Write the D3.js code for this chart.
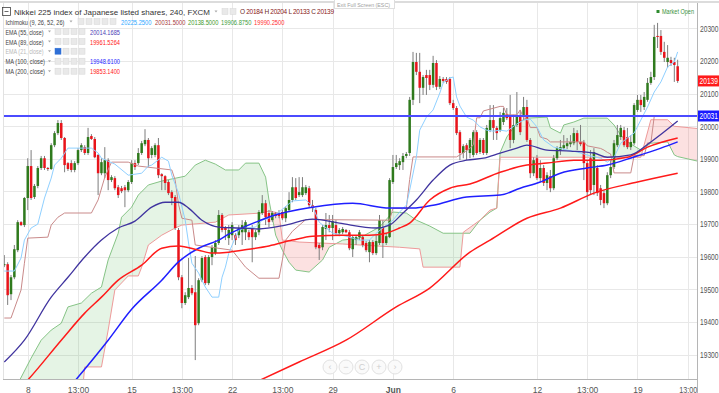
<!DOCTYPE html>
<html><head><meta charset="utf-8">
<script src="https://cdn.jsdelivr.net/npm/d3@7"></script>
<style>html,body{margin:0;padding:0;background:#fff;overflow:hidden}svg{display:block;font-family:Arial,"Liberation Sans",sans-serif}</style>
</head><body><svg id="c" width="719" height="393"></svg>
<script>
// ---------- DATA ----------
const candleOpen = [19574,19577,19485,19537,19620,19706,19697,19780,19878,19783,19817,19872,19902,19872,19869,19942,19979,20010,19964,19887,
19887,19866,19887,19927,19936,19918,19970,19961,19912,19856,19856,19896,19835,19841,19813,19810,19813,19804,19829,19887,
19887,19918,19945,19958,19912,19912,19942,19853,19847,19829,19798,19783,19682,19537,19458,19476,19504,19491,19396,19528,
19599,19519,19599,19611,19642,19728,19688,19657,19666,19666,19666,19675,19675,19675,19688,19660,19675,19734,19764,19734,
19712,19734,19731,19737,19718,19743,19774,19813,19789,19789,19795,19810,19758,19743,19636,19629,19685,19697,19688,19697,
19672,19675,19682,19675,19623,19651,19660,19660,19642,19614,19645,19611,19642,19688,19642,19660,19829,19875,19881,19890,
19909,19918,20081,20197,20167,20118,20157,20157,20127,20194,20121,20145,20145,20145,20071,20056,19982,19918,19942,19918,
19912,19982,19921,19958,19918,19988,20019,19995,19988,20013,20038,20029,19958,20004,20029,20029,20059,19958,19856,19902,
19841,19872,19826,19847,19810,19902,19927,19933,19939,19945,19948,19979,19952,19952,19887,19902,19820,19872,19810,19795,
19764,19850,19875,19942,19967,19988,19967,19936,19948,20050,20081,20059,20081,20133,20151,20277,20277,20228,20197,20203,
20197,20184];
const candleHigh = [19605,19583,19544,19636,19712,19709,19783,19902,19927,19823,19878,19909,19909,19875,19948,19985,20019,20019,19967,19890,
19896,19893,19933,19948,19942,19995,19976,19967,19915,19902,19936,19902,19850,19847,19820,19817,19820,19835,19896,19896,
19933,19955,19991,19964,19939,19948,19964,19856,19850,19835,19804,19789,19688,19544,19491,19596,19513,19602,19534,19602,
19605,19605,19636,19651,19743,19734,19694,19697,19706,19672,19697,19712,19712,19682,19697,19682,19743,19789,19774,19743,
19740,19737,19743,19743,19755,19798,19844,19841,19844,19844,19820,19817,19774,19749,19642,19697,19734,19728,19728,19712,
19688,19691,19685,19682,19666,19666,19682,19666,19648,19651,19651,19666,19728,19712,19672,19841,19912,19912,19902,19918,
19921,20090,20228,20225,20225,20157,20173,20173,20216,20203,20154,20151,20151,20151,20081,20062,19988,19945,19948,19964,
19988,19988,19964,19964,20004,20065,20065,20001,20044,20056,20056,20096,20035,20105,20050,20090,20081,19964,19905,19912,
19896,19881,19859,19866,19912,19939,19958,19973,19964,19973,19995,19988,20004,19958,19896,19927,19933,19881,19820,19804,
19859,19896,19958,20004,20004,19998,19995,19973,20071,20096,20096,20105,20148,20167,20311,20317,20295,20259,20249,20213,
20210,20204];
const candleLow = [19568,19452,19467,19531,19614,19694,19691,19743,19774,19777,19810,19866,19866,19863,19866,19936,19973,19958,19859,19863,
19859,19859,19881,19921,19912,19912,19958,19902,19789,19850,19841,19804,19829,19804,19780,19795,19752,19798,19823,19866,
19881,19912,19939,19875,19902,19905,19841,19804,19804,19789,19758,19682,19528,19442,19452,19470,19482,19283,19390,19522,
19513,19513,19574,19605,19636,19675,19651,19636,19651,19636,19657,19636,19651,19651,19583,19651,19666,19728,19697,19691,
19706,19718,19718,19712,19706,19737,19767,19774,19783,19783,19789,19752,19737,19623,19590,19620,19651,19675,19651,19666,
19663,19669,19672,19620,19599,19636,19651,19629,19614,19583,19605,19605,19636,19596,19636,19657,19823,19869,19866,19866,
19902,19909,20065,20157,20071,20096,20096,20111,20118,20111,20114,20133,20130,20065,20050,19973,19896,19902,19896,19902,
19905,19912,19915,19912,19912,19982,19958,19958,19982,20004,20019,19933,19948,19998,19973,20019,19952,19841,19847,19835,
19829,19817,19804,19798,19804,19896,19912,19927,19930,19936,19942,19927,19939,19835,19774,19789,19789,19786,19758,19749,
19758,19841,19869,19936,19958,19936,19930,19927,19942,20044,20044,20050,20075,20127,20142,20240,20219,20197,20179,20185,
20136,20133];
const candleClose = [19577,19482,19537,19623,19706,19697,19780,19878,19780,19817,19872,19902,19872,19869,19942,19979,20010,19964,19881,19869,
19866,19887,19927,19942,19918,19967,19961,19905,19856,19890,19896,19835,19844,19810,19789,19801,19804,19829,19887,19875,
19918,19948,19958,19902,19933,19942,19850,19847,19826,19795,19780,19688,19537,19458,19482,19504,19488,19390,19528,19596,
19519,19599,19629,19642,19728,19682,19682,19682,19697,19651,19688,19697,19706,19660,19660,19675,19737,19764,19721,19706,
19734,19725,19725,19718,19749,19774,19813,19780,19798,19813,19813,19758,19749,19629,19626,19691,19697,19688,19709,19672,
19682,19685,19675,19626,19660,19660,19675,19636,19620,19645,19611,19648,19712,19642,19663,19835,19875,19887,19893,19909,
19915,20081,20197,20167,20118,20151,20148,20127,20194,20121,20145,20139,20136,20071,20056,19979,19918,19939,19927,19958,
19982,19918,19958,19918,19995,20019,19995,19979,20025,20041,20025,19958,20004,20029,19982,20059,19958,19856,19896,19841,
19872,19826,19850,19810,19902,19933,19936,19942,19948,19952,19979,19952,19945,19887,19798,19804,19921,19795,19774,19764,
19850,19875,19948,19973,19995,19942,19936,19952,20065,20081,20065,20090,20133,20151,20274,20274,20228,20210,20210,20194,
20188,20139];

// indicator readings: [bar index, price]
const ema55 = [[0,19277],[6,19344],[14,19476],[19,19537],[24,19599],[29,19651],[34,19688],[39,19709],[44,19752],[48,19767],[52,19767],[55,19749],[59,19712],[64,19691],[70,19688],[76,19685],[84,19697],[92,19715],[100,19703],[111,19688],[115,19697],[119,19734],[123,19774],[128,19835],[133,19881],[138,19896],[143,19902],[148,19918],[153,19933],[156,19942],[162,19927],[169,19924],[176,19918],[180,19905],[187,19912],[193,19952],[201,20016]];
const ema89 = [[4,19190],[7,19222],[17,19344],[24,19427],[29,19476],[34,19528],[41,19574],[47,19626],[52,19633],[58,19620],[62,19611],[67,19614],[73,19623],[79,19633],[86,19651],[92,19663],[101,19666],[109,19666],[114,19672],[118,19688],[121,19703],[127,19774],[133,19810],[139,19823],[148,19859],[156,19881],[162,19887],[170,19896],[178,19896],[186,19905],[192,19936],[201,19964]];
const ma100 = [[20,19206],[31,19344],[38,19439],[47,19528],[52,19584],[58,19626],[64,19651],[67,19669],[76,19710],[79,19722],[92,19752],[104,19764],[115,19749],[122,19749],[128,19758],[138,19783],[148,19789],[154,19810],[160,19829],[166,19856],[174,19872],[180,19881],[188,19906],[196,19933],[201,19952]];
const ma200 = [[75,19215],[88,19277],[102,19344],[117,19446],[127,19504],[139,19614],[145,19651],[156,19718],[166,19749],[176,19795],[189,19829],[201,19856]];
const tenkan = [[0,19556],[3,19556],[5,19596],[6,19651],[8,19688],[10,19700],[12,19780],[14,19841],[15,19881],[17,19902],[19,19933],[26,19933],[28,19918],[29,19902],[33,19884],[37,19850],[41,19856],[43,19878],[44,19881],[47,19905],[49,19893],[50,19850],[52,19795],[54,19712],[55,19642],[56,19580],[58,19550],[60,19507],[62,19476],[64,19476],[65,19537],[66,19568],[67,19611],[69,19660],[70,19682],[72,19688],[75,19691],[77,19712],[79,19718],[82,19737],[86,19771],[90,19774],[92,19755],[94,19706],[98,19672],[102,19663],[106,19651],[109,19651],[111,19672],[116,19712],[118,19737],[120,19758],[121,19804],[123,19905],[124,19988],[126,20028],[128,20050],[130,20102],[131,20133],[133,20148],[134,20151],[135,20090],[136,20062],[138,20028],[140,20019],[142,19998],[144,19988],[146,19985],[148,19988],[150,19985],[153,20007],[155,20019],[157,20022],[159,19998],[161,19958],[164,19936],[168,19927],[171,19921],[175,19909],[178,19902],[180,19890],[182,19905],[184,19948],[186,19964],[188,19979],[190,20019],[192,20059],[194,20105],[196,20136],[198,20182],[200,20197],[201,20228]];
const kijun = [[0,19412],[2,19412],[5,19498],[6,19580],[7,19657],[13,19660],[14,19697],[16,19721],[18,19734],[26,19734],[28,19774],[30,19844],[32,19890],[37,19890],[40,19878],[45,19872],[50,19866],[51,19835],[52,19761],[53,19718],[56,19712],[57,19636],[68,19620],[72,19568],[76,19534],[82,19534],[83,19590],[84,19651],[86,19678],[90,19714],[115,19712],[116,19748],[120,19748],[121,19837],[122,19906],[135,19906],[136,19912],[139,19932],[140,19943],[141,20026],[142,20026],[143,20047],[148,20061],[149,20061],[150,20035],[153,20035],[154,20050],[155,20025],[156,20025],[157,19996],[159,19996],[160,19967],[162,19961],[163,19952],[173,19952],[174,19940],[178,19932],[179,19927],[180,19920],[181,19915],[182,19857],[187,19857],[188,19910],[191,19910],[192,19949],[193,19949],[194,20030],[201,20031]];
const leadA = [[3,19190],[8,19289],[11,19344],[14,19375],[17,19396],[19,19446],[23,19458],[26,19488],[29,19507],[31,19590],[34,19672],[35,19721],[38,19752],[40,19789],[43,19820],[47,19832],[54,19847],[57,19881],[60,19896],[63,19884],[66,19866],[70,19866],[72,19887],[76,19887],[78,19844],[79,19774],[81,19666],[83,19620],[85,19583],[87,19559],[91,19553],[95,19590],[97,19629],[101,19651],[106,19657],[112,19691],[116,19737],[120,19734],[123,19712],[127,19694],[131,19672],[139,19672],[142,19712],[145,19737],[147,19749],[148,19919],[150,19967],[153,20010],[156,20025],[162,20028],[163,19995],[166,19979],[167,20004],[170,20013],[173,20025],[180,20025],[182,20004],[184,19973],[186,19952],[190,19927],[193,19948],[198,19952],[200,19912],[201,19907],[207,19893]];
const leadB = [[3,19150],[23,19150],[24,19262],[29,19262],[31,19375],[33,19498],[37,19541],[40,19541],[41,19568],[43,19636],[47,19666],[51,19688],[53,19697],[63,19706],[67,19728],[77,19734],[79,19740],[82,19734],[83,19651],[88,19645],[101,19639],[118,19629],[124,19624],[125,19568],[136,19568],[137,19675],[142,19712],[145,19743],[147,19749],[148,19905],[190,19905],[193,20020],[198,20020],[200,20000],[207,19993]];

const priceTicks = [19300,19400,19500,19600,19700,19800,19900,20000,20100,20200,20300];
const xTickIdx = [7,22,38,53,68,83,98,116,134,159,174,189,204];
const xTickLabels = ["8","13:00","15","13:00","22","13:00","29","Jun","6","12","13:00","19","13:00"];
const hLinePrice = 20031.5;
const lastPrice = 20139;
const ichiValues = ["20225.2500","20031.5000","20138.5000","19906.8750","19990.2500"];
const studyRows = ["EMA (55, close)","EMA (89, close)","EMA (21, close)","MA (100, close)","MA (200, close)"];
const studyValues = ["20014.1685","19961.5264","","19948.6100","19853.1400"];
const ohlcLabels = ["O","H","L","C"];
const ohlcValues = ["20184","20204","20133","20139"];

// ---------- DRAW ----------
const svg = d3.select("#c");
const L = 3, R = 697, T = 3, B = 379;
const x = d3.scaleLinear().domain([-0.39, 206.77]).range([L, R]);
const y = d3.scaleLinear().domain([19225, 20378]).range([B, T]);
const FONT = "Arial, 'Liberation Sans', sans-serif";

svg.append("rect").attr("width",719).attr("height",393).attr("fill","#fff");
const defs = svg.append("defs");
defs.append("clipPath").attr("id","plot").append("rect").attr("x",L).attr("y",T).attr("width",R-L).attr("height",B-T);

// grid
const grid = svg.append("g").attr("clip-path","url(#plot)");
grid.selectAll(".hg").data(priceTicks).join("line")
  .attr("x1",L).attr("x2",R).attr("y1",d=>Math.round(y(d))+0.5).attr("y2",d=>Math.round(y(d))+0.5)
  .attr("stroke","#e8e8e8");
grid.selectAll(".vg").data(xTickIdx).join("line")
  .attr("y1",T).attr("y2",B).attr("x1",d=>Math.round(x(d))+0.5).attr("x2",d=>Math.round(x(d))+0.5)
  .attr("stroke","#e8e8e8");

// cloud
const areaTop = d3.area().x(d=>x(d[0])).y0(0).y1(d=>y(d[1]));
const areaBot = d3.area().x(d=>x(d[0])).y0(d=>y(d[1])).y1(420);
defs.append("clipPath").attr("id","belowA").append("path").attr("d",areaBot(leadA));
defs.append("clipPath").attr("id","belowB").append("path").attr("d",areaBot(leadB));
const plotG = svg.append("g").attr("clip-path","url(#plot)");
plotG.append("g").attr("clip-path","url(#belowA)").append("path").attr("d",areaTop(leadB))
  .attr("fill","#5cb85c").attr("fill-opacity",0.16);
plotG.append("g").attr("clip-path","url(#belowB)").append("path").attr("d",areaTop(leadA))
  .attr("fill","#f05050").attr("fill-opacity",0.17);

const lineLin = d3.line().x(d=>x(d[0])).y(d=>y(d[1]));
const lineSm = d3.line().x(d=>x(d[0])).y(d=>y(d[1])).curve(d3.curveMonotoneX);
function drawLine(data, gen, color, w){
  plotG.append("path").attr("d",gen(data)).attr("fill","none").attr("stroke",color).attr("stroke-width",w).attr("stroke-linejoin","round");
}
drawLine(leadA, lineLin, "#86c486", 1);
drawLine(leadB, lineLin, "#ee9a9a", 1);

// candles
const idx = d3.range(candleOpen.length);
const cg = plotG.append("g");
cg.selectAll(".wick").data(idx).join("line")
  .attr("x1",i=>x(i)).attr("x2",i=>x(i))
  .attr("y1",i=>y(candleHigh[i])).attr("y2",i=>y(candleLow[i]))
  .attr("stroke","#7d7d7d").attr("stroke-width",1);
cg.selectAll(".body").data(idx).join("rect")
  .attr("x",i=>x(i)-1.25).attr("width",2.5)
  .attr("y",i=>y(Math.max(candleOpen[i],candleClose[i])))
  .attr("height",i=>Math.max(1,Math.abs(y(candleOpen[i])-y(candleClose[i]))))
  .attr("fill",i=>candleClose[i]>=candleOpen[i]?"#2f7a1d":"#e8141b");

// indicator lines
drawLine(kijun, lineLin, "#c98a8a", 1);
drawLine(tenkan, lineLin, "#8fd0ff", 1);
drawLine(ma200, lineSm, "#ff1a1a", 1.5);
drawLine(ma100, lineSm, "#1f1fff", 1.5);
drawLine(ema89, lineSm, "#ff1a1a", 1.5);
drawLine(ema55, lineSm, "#40349f", 1.3);

// horizontal line
plotG.append("line").attr("x1",L).attr("x2",R).attr("y1",y(hLinePrice)).attr("y2",y(hLinePrice))
  .attr("stroke","#4b4bff").attr("stroke-width",2);

// frame
svg.append("line").attr("x1",0).attr("x2",719).attr("y1",2).attr("y2",2).attr("stroke","#dcdcdc").attr("stroke-width",2);
svg.append("line").attr("x1",L+0.5).attr("x2",L+0.5).attr("y1",T).attr("y2",B).attr("stroke","#e2e2e2");
svg.append("line").attr("x1",R+0.5).attr("x2",R+0.5).attr("y1",T).attr("y2",393).attr("stroke","#b5b5b5");
svg.append("line").attr("x1",L).attr("x2",R).attr("y1",B+0.5).attr("y2",B+0.5).attr("stroke","#b5b5b5");

// right axis (labels squeezed slightly so they fit inside the 719px frame)
const ax = svg.append("g").attr("transform",`translate(${R},0)`)
  .call(d3.axisRight(y).tickValues(priceTicks).tickSize(0).tickPadding(3).tickFormat(d3.format("d")));
ax.select(".domain").remove();
ax.selectAll("text").attr("font-size","8.5px").attr("fill","#555").attr("font-family",FONT)
  .attr("textLength",18.5).attr("lengthAdjust","spacingAndGlyphs");

function priceTag(p, color){
  const g = svg.append("g");
  const yy = y(p);
  g.append("rect").attr("x",R+1).attr("y",yy-5.5).attr("width",22).attr("height",11).attr("fill",color);
  g.append("text").attr("x",R+2.5).attr("y",yy+3.2).attr("font-size","8.5px").attr("fill","#fff").attr("font-family",FONT)
    .attr("textLength",18.5).attr("lengthAdjust","spacingAndGlyphs").text(d3.format("d")(Math.floor(p)));
}
priceTag(lastPrice, "#ff1a1a");
priceTag(hLinePrice, "#1a1aff");

// bottom axis
const bx = svg.append("g").attr("transform",`translate(0,${B})`)
  .call(d3.axisBottom(x).tickValues(xTickIdx).tickSize(0).tickPadding(8).tickFormat((d,i)=>xTickLabels[i]));
bx.select(".domain").remove();
bx.selectAll("text").attr("font-size","8.5px").attr("fill","#555").attr("font-family",FONT)
  .attr("font-weight",(d,i)=>xTickLabels[i]==="Jun"?"bold":"normal");
// keep the last "13:00" inside the plot frame like the reference
bx.selectAll("text").filter((d,i)=>i===xTickIdx.length-1).attr("textLength",18).attr("lengthAdjust","spacingAndGlyphs");

// nav buttons
const navG = svg.append("g");
const navSyms = ["\u2039","\u2212","C","+","\u203A"];
const navX = [330,346,362,379,395];
navSyms.forEach((s,i)=>{
  navG.append("circle").attr("cx",navX[i]).attr("cy",367).attr("r",7).attr("fill","#fafafa").attr("stroke","#e2e2e2");
  navG.append("text").attr("x",navX[i]).attr("y",370).attr("text-anchor","middle").attr("font-size","9px").attr("fill","#cfcfcf").text(s);
});

// exit full screen tab
svg.append("rect").attr("x",334.5).attr("y",-1).attr("width",60).attr("height",9.5).attr("fill","#fff").attr("stroke","#dedede");
svg.append("text").attr("x",337).attr("y",6.5).attr("font-size","5.5px").attr("fill","#a0a0a0").attr("textLength",53).attr("lengthAdjust","spacingAndGlyphs").text("Exit Full Screen (ESC)");

// market open
svg.append("rect").attr("x",656.5).attr("y",10).attr("width",3).attr("height",3).attr("fill","#2e8b2e");
svg.append("text").attr("x",662).attr("y",14).attr("font-size","6.5px").attr("fill","#3a8f3a").attr("textLength",32).attr("lengthAdjust","spacingAndGlyphs").text("Market Open");

// legend
const lg = svg.append("g");
function caret(xx, yy){
  lg.append("path").attr("d",`M${xx},${yy} l3,0 l-1.5,2 z`).attr("fill","#aaa");
}
function box(xx, yy, blue){
  lg.append("rect").attr("x",xx).attr("y",yy).attr("width",6).attr("height",6)
    .attr("fill",blue?"#2f6fd6":"#e9e9e9").attr("stroke",blue?"#2f6fd6":"#d6d6d6").attr("stroke-width",0.5);
}
// title row
lg.append("rect").attr("x",2.5).attr("y",7.5).attr("width",8).attr("height",8).attr("fill","none").attr("stroke","#444").attr("stroke-width",0.8);
lg.append("line").attr("x1",4.5).attr("x2",8.5).attr("y1",11.5).attr("y2",11.5).attr("stroke","#444").attr("stroke-width",0.8);
lg.append("text").attr("x",14).attr("y",14.8).attr("font-size","8.1px").attr("fill","#333").attr("textLength",196).attr("lengthAdjust","spacingAndGlyphs").text("Nikkei 225 index of Japanese listed shares, 240, FXCM");
caret(214.5, 10.5);
box(222, 8.5, false); box(230, 8.5, false);
const ohlcText = lg.append("text").attr("x",240).attr("y",14.3).attr("font-size","6.5px").attr("textLength",94).attr("lengthAdjust","spacing");
ohlcLabels.forEach((l,i)=>{
  ohlcText.append("tspan").attr("fill","#6b2a2a").text((i?"  ":"")+l+" ");
  ohlcText.append("tspan").attr("fill","#8b2020").text(ohlcValues[i]);
});
// ichimoku row
const rowY = [24.5,34.5,44.5,54.2,64.2,74.2];
lg.append("text").attr("x",5.5).attr("y",rowY[0]).attr("font-size","6.5px").attr("fill","#444").attr("textLength",59).attr("lengthAdjust","spacingAndGlyphs").text("Ichimoku (9, 26, 52, 26)");
caret(69.5, rowY[0]-4);
for(let k=0;k<5;k++) box(78+k*8, rowY[0]-6, false);
const ichiColors = ["#2ea8ff","#a83a3a","#3f9a2a","#3d9d3d","#ff2f2f"];
const ichiX = [121,155,188,221,254];
ichiValues.forEach((v,i)=>lg.append("text").attr("x",ichiX[i]).attr("y",rowY[0]).attr("font-size","6.5px").attr("fill",ichiColors[i]).attr("textLength",30.5).attr("lengthAdjust","spacingAndGlyphs").text(v));
// study rows
const studyColors = ["#4a3db5","#ff2020","#bbb","#2626ff","#ff2020"];
const labelW = [38,38,38,39.5,39.5];
studyRows.forEach((s,i)=>{
  const yy = rowY[i+1];
  lg.append("text").attr("x",5.5).attr("y",yy).attr("font-size","6.5px").attr("fill",i===2?"#b8b8b8":"#444").attr("textLength",labelW[i]).attr("lengthAdjust","spacingAndGlyphs").text(s);
  caret(48, yy-4);
  for(let k=0;k<4;k++) box(55+k*8, yy-6, i===2&&k===0);
  if(studyValues[i]) lg.append("text").attr("x",90).attr("y",yy).attr("font-size","6.5px").attr("fill",studyColors[i]).attr("textLength",30).attr("lengthAdjust","spacingAndGlyphs").text(studyValues[i]);
});
</script></body></html>
